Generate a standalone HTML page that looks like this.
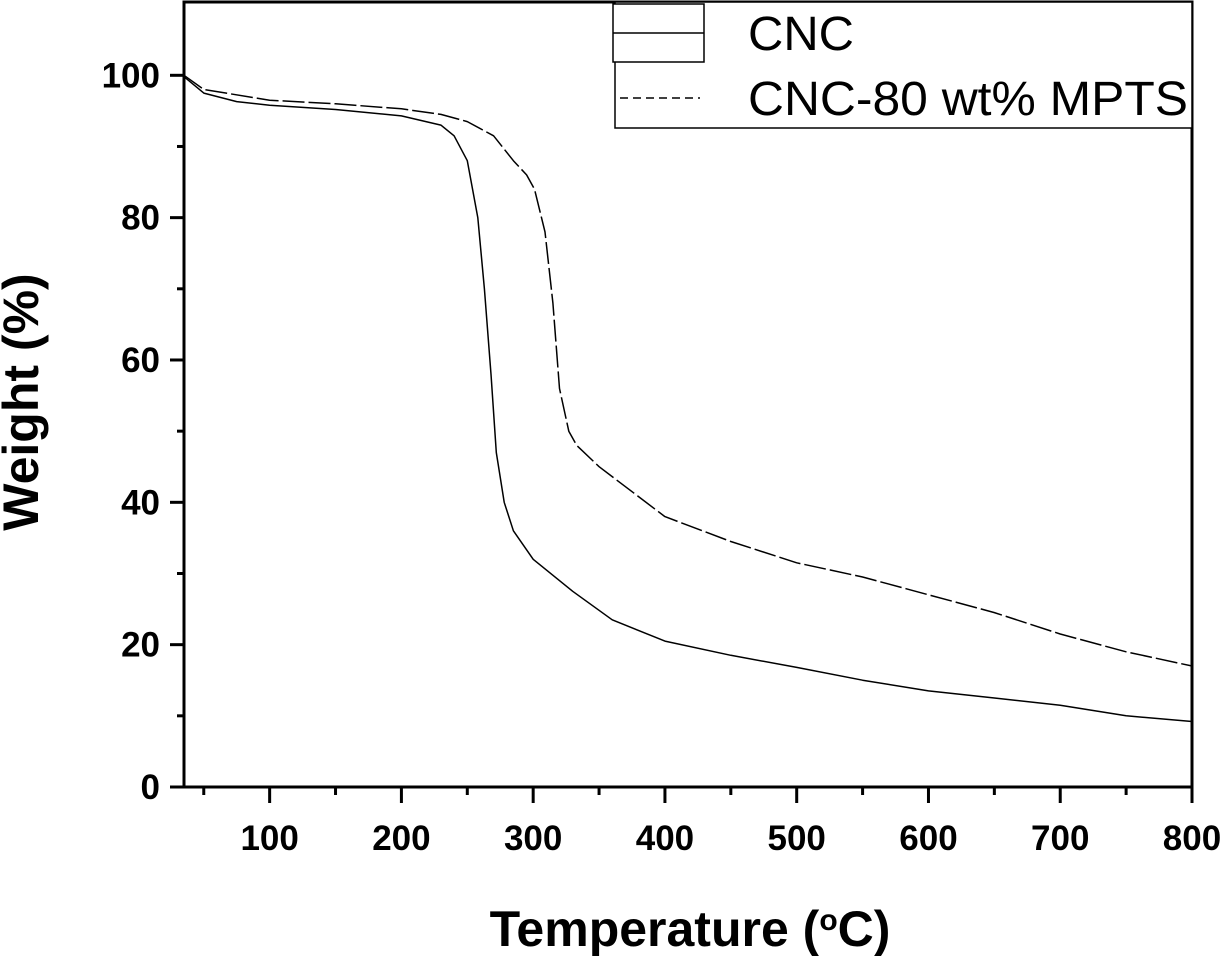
<!DOCTYPE html>
<html><head><meta charset="utf-8"><style>
body{margin:0;background:#fff;}
svg{display:block;font-family:"Liberation Sans",Arial,sans-serif;}
</style></head><body>
<svg width="1228" height="956" viewBox="0 0 1228 956">
<g id="plot"></g>
</svg>
<script>
const xTicks=[100,200,300,400,500,600,700,800];
const yTicks=[0,20,40,60,80,100];
const cncT=[35,50,75,100,150,200,230,240,250,258,263,268,272,278,285,300,330,360,400,450,500,550,600,650,700,750,800];
const cncW=[99.8,97.5,96.3,95.8,95.2,94.3,93,91.5,88,80,70,58,47,40,36,32,27.5,23.5,20.5,18.5,16.8,15,13.5,12.5,11.5,10,9.2];
const mptsT=[35,50,100,150,200,230,250,270,285,295,301,309,315,320,327,333,350,400,450,500,550,600,650,700,750,800];
const mptsW=[100,98,96.5,96,95.3,94.5,93.5,91.5,88,86,84,78,68,56,50,48,45,38,34.5,31.5,29.5,27,24.5,21.5,19,17];
const X0=35,X1=800,Y0=0,Y1=110.3,L=184,R=1192,T=2,B=787;
const sx=v=>L+(v-X0)/(X1-X0)*(R-L), sy=v=>B-(v-Y0)/(Y1-Y0)*(B-T);
const NS="http://www.w3.org/2000/svg", g=document.getElementById('plot');
function mk(t,a,p){const e=document.createElementNS(NS,t);for(const k in a)e.setAttribute(k,a[k]);(p||g).appendChild(e);return e;}
let fr=mk('rect',{x:L,y:T,width:R-L,height:B-T,fill:'none',stroke:'#000','stroke-width':3});


for(let v=50;v<=800;v+=50){const x=sx(v);const major=v%100===0;
 let t=mk('line',{x1:x,x2:x,y1:B,y2:B+(major?16:8),stroke:'#000','stroke-width':3});
 
 }
xTicks.forEach(v=>{let t=mk('text',{x:sx(v),y:850,'text-anchor':'middle','font-size':35,'font-weight':'bold'});t.textContent=v;
 
 });
for(let v=10;v<=100;v+=10){const y=sy(v);const major=v%20===0;
 let t=mk('line',{x1:L,x2:L-(major?14:7),y1:y,y2:y,stroke:'#000','stroke-width':3});
 
 }
mk('line',{x1:L,x2:L-14,y1:B,y2:B,stroke:'#000','stroke-width':3});
yTicks.forEach(v=>{let t=mk('text',{x:160,y:sy(v)+12,'text-anchor':'end','font-size':35,'font-weight':'bold'});t.textContent=v;
 
 });
let xt=mk('text',{x:690,y:946,'text-anchor':'middle','font-size':50,'font-weight':'bold'});
xt.innerHTML='Temperature (<tspan dy="-16" font-size="30">o</tspan><tspan dy="16">C)</tspan>';


let yt=mk('text',{x:0,y:0,'text-anchor':'middle','font-size':50,'font-weight':'bold',transform:'translate(38,402) rotate(-90)'});
yt.textContent='Weight (%)';


function path(ts,ws){return ts.map((t,i)=>(i?'L':'M')+sx(t).toFixed(1)+','+sy(ws[i]).toFixed(1)).join(' ');}
let c1=mk('path',{d:path(cncT,cncW),fill:'none',stroke:'#000','stroke-width':1.5,'stroke-linejoin':'round'});


let c2=mk('path',{d:path(mptsT,mptsW),fill:'none',stroke:'#000','stroke-width':1.5,'stroke-dasharray':'22 4','stroke-linejoin':'round'});


let lg=mk('g',{});


mk('rect',{x:615,y:2,width:577,height:126,fill:'#fff',stroke:'#000','stroke-width':1.5},lg);
mk('rect',{x:613,y:4,width:91,height:58,fill:'#fff',stroke:'#000','stroke-width':1.5},lg);
mk('line',{x1:613,x2:704,y1:33,y2:33,stroke:'#000','stroke-width':1.5},lg);
let l1=mk('text',{x:748,y:50,'font-size':48,textLength:106,lengthAdjust:'spacingAndGlyphs'},lg);l1.textContent='CNC';


mk('line',{x1:620,x2:700,y1:98,y2:98,stroke:'#000','stroke-width':1.5,'stroke-dasharray':'8 5'},lg);
let l2=mk('text',{x:748,y:115,'font-size':48,textLength:440,lengthAdjust:'spacingAndGlyphs'},lg);l2.textContent='CNC-80 wt% MPTS';


</script>
</body></html>
